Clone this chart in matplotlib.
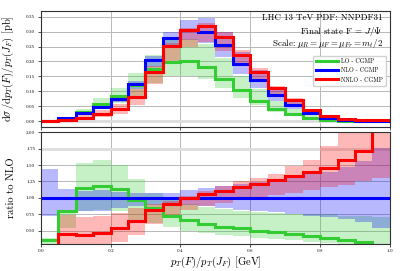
import numpy as np
import matplotlib
matplotlib.use("Agg")
import matplotlib.pyplot as plt

plt.rcParams['font.family'] = 'serif'
plt.rcParams['font.serif'] = ['cmr10', 'DejaVu Serif']
plt.rcParams['mathtext.fontset'] = 'cm'
plt.rcParams['axes.formatter.use_mathtext'] = True
plt.rcParams['axes.unicode_minus'] = False

# bin edges in pT(F)/pT(J_F)
edges = np.round(np.arange(0, 1.0001, 0.05), 2)

# NLO central and scale band [pb]
nlo = [0.002, 0.011, 0.027, 0.049, 0.075, 0.125, 0.205, 0.277, 0.304, 0.300,
       0.254, 0.191, 0.137, 0.087, 0.053, 0.026, 0.011, 0.005, 0.002, 0.001]
nlo_lo = [0.00144, 0.00858, 0.0216, 0.0392, 0.06375, 0.10875, 0.18245, 0.25207, 0.27056, 0.261,
          0.2159, 0.15662, 0.1096, 0.06786, 0.04028, 0.01898, 0.00781, 0.0034, 0.00126, 0.00054]
nlo_hi = [0.00288, 0.01243, 0.0297, 0.05488, 0.08175, 0.13375, 0.21935, 0.29916, 0.34048, 0.345,
          0.29972, 0.23111, 0.16988, 0.11136, 0.06996, 0.03536, 0.0154, 0.00735, 0.00312, 0.00176]

# LO central and scale band [pb]
lo = [0.00072, 0.0088, 0.0311, 0.0578, 0.0848, 0.120, 0.174, 0.199, 0.201, 0.180,
      0.142, 0.103, 0.067, 0.041, 0.024, 0.0109, 0.0043, 0.0018, 0.00066, 0.00028]
lo_lo = [0.0004, 0.00594, 0.0216, 0.0402, 0.06, 0.08125, 0.1271, 0.15235, 0.152, 0.141,
         0.11176, 0.07831, 0.05343, 0.03219, 0.01855, 0.00858, 0.00341, 0.00145, 0.00054, 0.00025]
lo_hi = [0.00076, 0.00902, 0.04131, 0.07742, 0.1125, 0.16125, 0.2214, 0.277, 0.2736, 0.258,
         0.21082, 0.1528, 0.10686, 0.06699, 0.04028, 0.0195, 0.00825, 0.00365, 0.00144, 0.0007]

# NNLO central and scale band [pb]
nnlo = [0.0004, 0.00495, 0.01161, 0.02303, 0.0405, 0.08125, 0.16605, 0.25207, 0.304, 0.318,
        0.28194, 0.22156, 0.16577, 0.11049, 0.07049, 0.0364, 0.01606, 0.00785, 0.00344, 0.0023]
nnlo_lo = [0.0002, 0.0022, 0.00594, 0.01274, 0.02475, 0.055, 0.123, 0.19944, 0.24928, 0.264,
           0.23368, 0.18336, 0.137, 0.09048, 0.05724, 0.02912, 0.01276, 0.006, 0.0025, 0.0013]
nnlo_hi = [0.0005, 0.00814, 0.0189, 0.03577, 0.05775, 0.10625, 0.1845, 0.26315, 0.31312, 0.33,
           0.29972, 0.23875, 0.1781, 0.11832, 0.07844, 0.04108, 0.01969, 0.011, 0.005, 0.0027]

labels = ["LO - CGMP", "NLO - CGMP", "NNLO - CGMP"]
colors = ["#33cc33", "#0000ff", "#ff0000"]

series = [(lo, lo_lo, lo_hi), (nlo, nlo_lo, nlo_hi), (nnlo, nnlo_lo, nnlo_hi)]
ref = np.array(nlo)

fig = plt.figure(figsize=(4.07, 2.71), dpi=100)
ax1 = fig.add_axes([0.100, 0.531, 0.858, 0.4295])
ax2 = fig.add_axes([0.100, 0.1007, 0.858, 0.4113], sharex=ax1)

tick_fs = 3.6
for ax in (ax1, ax2):
    ax.grid(True, color="#b8b8b8", lw=0.7)
    ax.set_axisbelow(True)
    for s in ax.spines.values():
        s.set_color("#333333")
        s.set_linewidth(0.8)
    ax.tick_params(labelsize=tick_fs, length=2.5, width=0.6, color="#333333", pad=1.5)

# bands
for (c, lo_, hi_), col in zip(series, colors):
    lo_a = np.array(lo_); hi_a = np.array(hi_)
    ax1.stairs(hi_a, edges, baseline=lo_a, fill=True, color=col, alpha=0.28, lw=0.5)
    ax2.stairs(hi_a / ref, edges, baseline=lo_a / ref, fill=True, color=col, alpha=0.28, lw=0.5)

# central lines
for (c, _, _), col, lab in zip(series, colors, labels):
    c = np.array(c)
    ax1.stairs(c, edges, baseline=None, color=col, lw=2.2, label=lab)
    ax2.stairs(c / ref, edges, baseline=None, color=col, lw=2.2)

ax1.axhline(0.0, color="#dddddd", lw=2.0, zorder=0.6)
ax2.axhline(1.75, color="#dddddd", lw=2.0, zorder=0.6)

ax1.set_xlim(0, 1)
ax1.set_ylim(-0.02, 0.37)
ax1.set_yticks(np.arange(0, 0.351, 0.05))
ax1.yaxis.set_major_formatter(matplotlib.ticker.FormatStrFormatter('%.2f'))
ax1.tick_params(labelbottom=False)

ax2.set_ylim(0.3, 2.0)
ax2.set_yticks([0.5, 0.75, 1.0, 1.25, 1.5, 1.75, 2.0])
ax2.yaxis.set_major_formatter(matplotlib.ticker.FormatStrFormatter('%.2f'))
ax2.set_xticks([0, 0.2, 0.4, 0.6, 0.8, 1.0])
ax2.xaxis.set_major_formatter(matplotlib.ticker.FormatStrFormatter('%.1f'))

ax1.set_ylabel(r"$\mathrm{d}\sigma\,/\mathrm{d}p_T(F)/p_T(J_F)$ [pb]", fontsize=7.6)
ax1.yaxis.set_label_coords(-0.072, 0.5)
ax2.set_ylabel("ratio to NLO", fontsize=7.6)
ax2.yaxis.set_label_coords(-0.072, 0.5)
ax2.set_xlabel(r"$p_T(F)/p_T(J_F)$ [GeV]", fontsize=7.6, labelpad=1)

ax1.text(0.98, 0.935, "LHC 13 TeV PDF: NNPDF31", transform=ax1.transAxes,
         ha="right", va="center", fontsize=6.5)
ax1.text(0.98, 0.82, r"Final state F = $J/\Psi$", transform=ax1.transAxes,
         ha="right", va="center", fontsize=6.5)
ax1.text(0.98, 0.715, r"Scale: $\mu_R=\mu_F=\mu_{Fr}=m_t/2$", transform=ax1.transAxes,
         ha="right", va="center", fontsize=6.5)

leg = ax1.legend(loc="upper right", bbox_to_anchor=(0.998, 0.64), fontsize=4.3,
                 handlelength=3.6, handletextpad=0.6, borderpad=0.5, labelspacing=0.55,
                 framealpha=0.9, edgecolor="#cccccc", fancybox=True)
for h in leg.get_lines():
    h.set_linewidth(2.2)

fig.savefig("out.png", dpi=100)
